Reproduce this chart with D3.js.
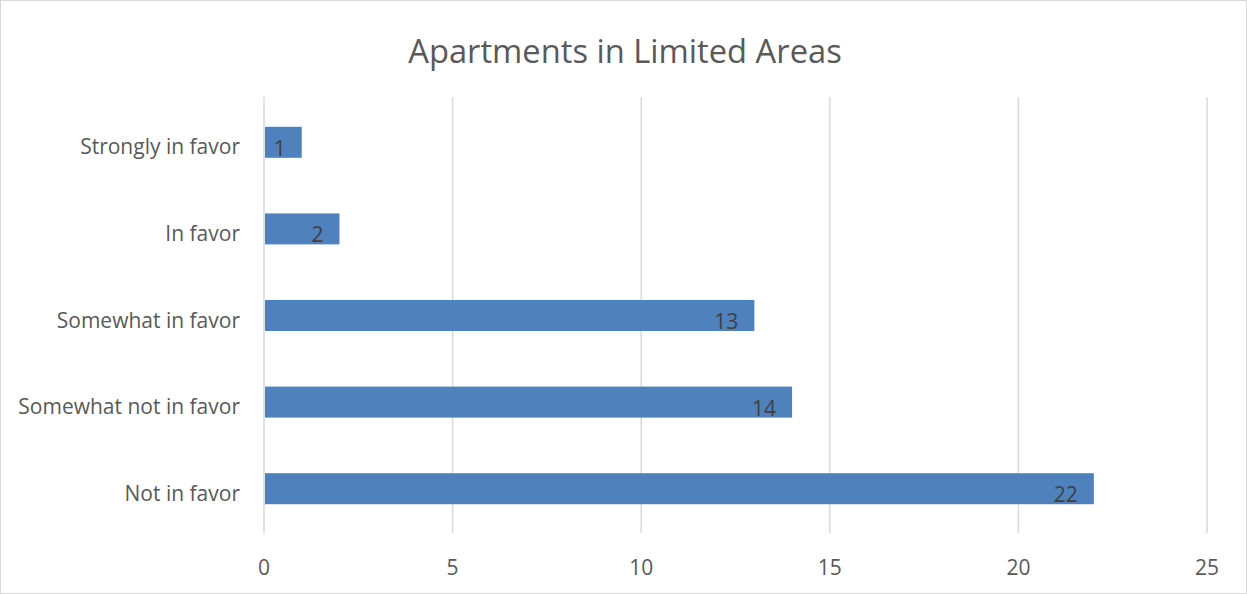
<!DOCTYPE html>
<html><head><meta charset="utf-8">
<script src="https://cdn.jsdelivr.net/npm/d3@7"></script>
<style>
html,body{margin:0;padding:0;background:#fff;}
svg{display:block;}
text{font-family:"Open Sans",sans-serif;}
</style></head>
<body><svg id="c" width="1247" height="594"></svg>
<script>
const title = "Apartments in Limited Areas";
const categories = ["Strongly in favor","In favor","Somewhat in favor","Somewhat not in favor","Not in favor"];
const values = [1,2,13,14,22];
const xTicks = [0,5,10,15,20,25];

const svg = d3.select("#c");
const W = 1247, H = 594;
svg.append("rect").attr("x",0.5).attr("y",0.5).attr("width",W-1).attr("height",H-1)
  .attr("fill","#fff").attr("stroke","#d9d9d9");

const x = d3.scaleLinear().domain([0,25]).range([264,1207]);
const y = d3.scaleBand().domain(categories).range([99,532]).paddingInner(0.642).paddingOuter(0.321);

// gridlines
svg.append("g").selectAll("line").data(xTicks).join("line")
  .attr("x1",d=>x(d)).attr("x2",d=>x(d)).attr("y1",97).attr("y2",533)
  .attr("stroke","#d9d9d9").attr("stroke-width",1.5);

// bars
svg.append("g").selectAll("rect").data(values).join("rect")
  .attr("x",x(0)+1).attr("y",(d,i)=>y(categories[i]))
  .attr("width",d=>x(d)-x(0)-1).attr("height",y.bandwidth())
  .attr("fill","#4f81bd");

// value labels
svg.append("g").selectAll("text").data(values).join("text")
  .attr("x",d=>x(d)-16).attr("y",(d,i)=>y(categories[i])+y.bandwidth()-2)
  .attr("text-anchor","end").attr("font-size",21).attr("fill","#404040")
  .text(d=>d);

// category labels
svg.append("g").selectAll("text").data(categories).join("text")
  .attr("x",240).attr("y",d=>y(d)+y.bandwidth()/2+12)
  .attr("text-anchor","end").attr("font-size",21).attr("fill","#595959")
  .text(d=>d);

// x axis tick labels
svg.append("g").selectAll("text").data(xTicks).join("text")
  .attr("x",d=>x(d)).attr("y",575)
  .attr("text-anchor","middle").attr("font-size",21).attr("fill","#595959")
  .text(d=>d);

// title
svg.append("text").attr("x",625).attr("y",63)
  .attr("text-anchor","middle").attr("font-size",32.7).attr("fill","#595959")
  .text(title);
</script></body></html>
